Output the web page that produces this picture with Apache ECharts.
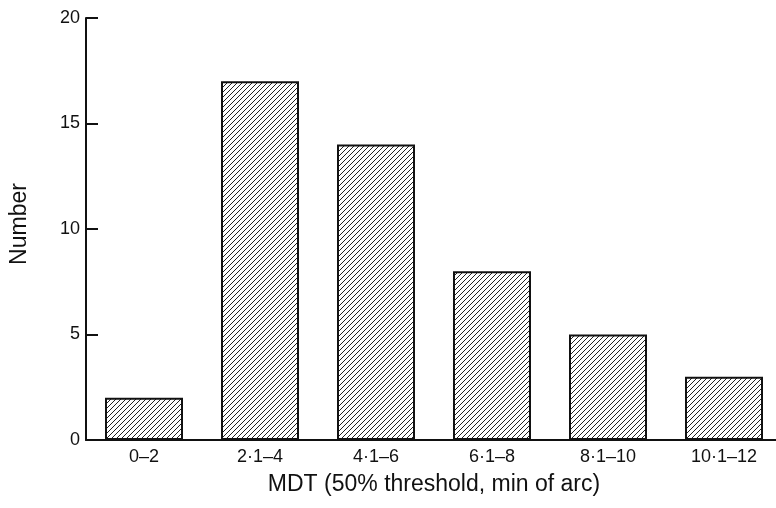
<!DOCTYPE html>
<html><head><meta charset="utf-8">
<script src="https://cdn.jsdelivr.net/npm/echarts@6/dist/echarts.min.js"></script>
<style>html,body{margin:0;padding:0;background:#fff}#c{width:776px;height:508px}</style>
</head><body><div id="c"></div>
<script>
var categories = ['0–2', '2·1–4', '4·1–6', '6·1–8', '8·1–10', '10·1–12'];
var counts = [2, 17, 14, 8, 5, 3];
var yTicks = [0, 5, 10, 15, 20];

function hatch() {
  var s = 5, c = document.createElement('canvas');
  c.width = s; c.height = s;
  var g = c.getContext('2d');
  g.fillStyle = '#fff'; g.fillRect(0, 0, s, s);
  g.strokeStyle = '#222'; g.lineWidth = 1;
  g.beginPath();
  g.moveTo(-1, s + 1); g.lineTo(s + 1, -1);
  g.moveTo(-1, 1); g.lineTo(1, -1);
  g.moveTo(s - 1, s + 1); g.lineTo(s + 1, s - 1);
  g.stroke();
  return c;
}

var chart = echarts.init(document.getElementById('c'));
var font = '"Liberation Sans", Arial, sans-serif';
chart.setOption({
  backgroundColor: '#fff',
  animation: false,
  grid: { left: 86, right: -6, top: 18, bottom: 68, containLabel: false, outerBoundsMode: 'none' },
  xAxis: {
    type: 'category', data: categories,
    axisLine: { lineStyle: { color: '#111', width: 2 } },
    axisTick: { show: false },
    axisLabel: { color: '#111', fontSize: 18, fontFamily: font, margin: 8 },
    name: 'MDT (50% threshold, min of arc)', nameLocation: 'middle', nameGap: 33,
    nameTextStyle: { color: '#111', fontSize: 23, fontFamily: font }
  },
  yAxis: {
    type: 'value', min: yTicks[0], max: yTicks[yTicks.length - 1], interval: 5,
    axisLine: { show: true, lineStyle: { color: '#111', width: 2 } },
    axisTick: { show: true, inside: true, length: 12, lineStyle: { color: '#111', width: 2 } },
    splitLine: { show: false },
    axisLabel: { color: '#111', fontSize: 18, fontFamily: font, margin: 6 },
    name: 'Number', nameLocation: 'middle', nameGap: 55, nameRotate: 90,
    nameTextStyle: { color: '#111', fontSize: 23, fontFamily: font, padding: [0, 0, 0, 10] }
  },
  series: [{
    type: 'bar', data: counts, barWidth: 78,
    itemStyle: { color: { image: hatch(), repeat: 'repeat' }, borderColor: '#111', borderWidth: 2 }
  }]
});
</script></body></html>
